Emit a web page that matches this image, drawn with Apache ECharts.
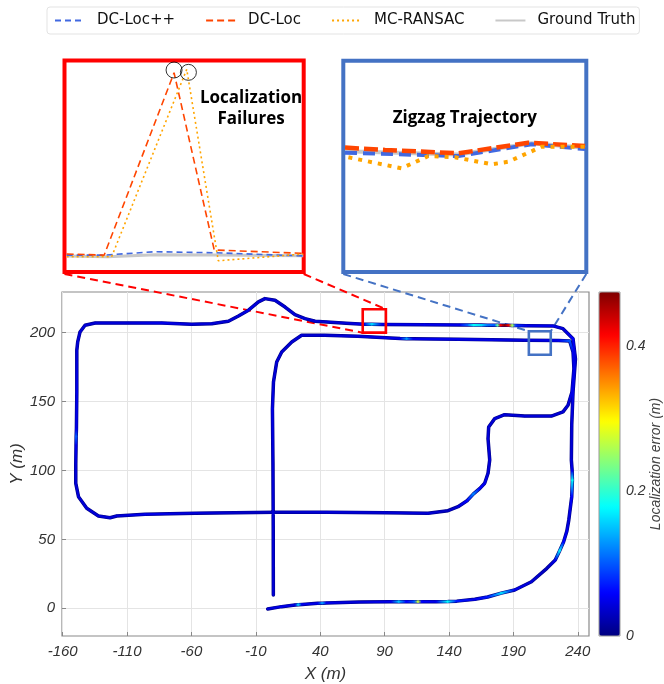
<!DOCTYPE html>
<html><head><meta charset="utf-8">
<script src="https://cdn.jsdelivr.net/npm/echarts@6/dist/echarts.min.js"></script>
<style>html,body{margin:0;padding:0;background:#fff}#c{width:664px;height:684px}</style>
</head><body><div id="c"></div>
<script>
// ---------- data ----------
const xTicks = [-160, -110, -60, -10, 40, 90, 140, 190, 240];
const yTicks = [0, 50, 100, 150, 200];
const errTicks = [0, 0.2, 0.4];
const legendNames = ['DC-Loc++', 'DC-Loc', 'MC-RANSAC', 'Ground Truth'];

// trajectory points: [x (m), y (m), localization error (m)]
const trajectory = [
[-0.8,-0.5,0.04],[10,1.2,0.05],[20.4,2.4,0.04],[23,2.6,0.15],[26,2.8,0.05],[38,3.6,0.05],[41.6,3.7,0.13],[45,3.9,0.05],
[70,4.5,0.04],[95,4.8,0.05],[101,4.8,0.15],[107,4.8,0.06],[113,4.8,0.1],[116,4.8,0.27],[119,4.8,0.06],[130,4.8,0.05],
[139,4.9,0.18],[146,5.2,0.07],[160,6.5,0.05],[170,8.2,0.07],[180.6,11,0.16],[191,13.3,0.05],[204,19.3,0.04],[216,29,0.03],
[222.5,35,0.05],[226,42,0.17],[229,48.3,0.06],[231.5,56,0.05],[233,64,0.04],[235.3,81,0.06],[235.8,93,0.18],[235.6,100,0.05],
[235,107.6,0.04],[235.3,133,0.04],[236.3,157,0.05],[238.2,181,0.04],[236.3,195.6,0.06],[228.5,202.9,0.04],[220.7,204.9,0.05],
[200,205.1,0.05],[192,205.2,0.08],[189,205.2,0.25],[186,205.3,0.42],[183,205.3,0.47],[180,205.3,0.42],[177.5,205.3,0.22],
[175,205.4,0.1],[170,205.4,0.11],[165,205.5,0.16],[159,205.5,0.18],[154,205.6,0.1],[148,205.6,0.05],[121,205.8,0.05],
[88,206,0.05],[80,206.1,0.16],[74,206.1,0.05],[60,206.9,0.04],[45,207.8,0.04],[36,208.3,0.04],[28.2,210.2,0.04],
[20.4,213,0.04],[12.7,218.6,0.04],[4.9,223.5,0.04],[-2.9,224.7,0.04],[-8,222.3,0.04],[-15.7,216.3,0.05],[-23.5,212.1,0.04],
[-31.3,208.3,0.04],[-44.2,206.5,0.04],[-59.8,206.1,0.04],[-83,207,0.05],[-108.9,207,0.04],[-134.8,207,0.04],[-142.6,205.4,0.04],
[-146.5,200.5,0.04],[-148.3,193.3,0.04],[-149,187.2,0.04],[-149,157,0.05],[-149.3,130,0.05],[-149.5,124.5,0.1],[-149.6,118,0.05],
[-149.8,104.7,0.04],[-149.8,90.7,0.04],[-147.7,81,0.04],[-141.3,72.6,0.04],[-132.2,67,0.04],[-123.2,65.7,0.04],[-118,67,0.04],
[-96,68.2,0.05],[-57.2,69,0.04],[4.9,69.7,0.03],[45,69.7,0.04],[90.1,69.4,0.04],[123.7,68.9,0.04],[139.2,70.8,0.03],
[147,73.7,0.04],[154,78,0.06],[159,83,0.12],[164,87,0.06],[167.7,90.7,0.05],[170.3,98,0.04],[171.6,107.6,0.04],
[170.3,123,0.04],[170.8,131.6,0.04],[175.5,137.6,0.04],[183.2,140.5,0.04],[198.8,139.5,0.04],[219.5,139.5,0.04],
[228.5,142.5,0.04],[232.4,147.3,0.04],[235.5,157,0.05],[237,173.9,0.05],[236.3,186,0.05],[233.7,194,0.1],[225,194.3,0.05],
[198.8,194.5,0.04],[147,195.2,0.05],[112,195.5,0.05],[107,195.6,0.13],[102,195.7,0.05],[69.3,197.4,0.04],[43.5,198.1,0.04],
[25.6,198.1,0.04],[17.9,193.2,0.04],[10.1,186,0.04],[6.2,178.7,0.04],[3.7,164.2,0.04],[2.9,144.8,0.05],[3.3,104.7,0.04],
[3.5,60,0.04],[3.6,9.7,0.04]
];

// zoomed regions in the main plot: [x0, x1, y0, y1]
const failureZoom = [73, 91, 200, 217];
const zigzagZoom = [202, 219, 184, 201];

// "Localization Failures" inset (local coordinates 0..100)
const failGroundTruth = [[0.9,7.6],[18,7.2],[38,8.2],[62,8.0],[99.8,7.7]];
const failDCLocPP = [[0.9,8.0],[16.9,8.0],[37.8,9.6],[62.9,9.1],[99.7,7.6]];
const failDCLoc = [[0.9,8.5],[16.6,8.0],[45.8,94.2],[62.6,10.4],[99.8,8.8]];
const failMCRansac = [[0.9,7.2],[19.7,7.2],[51.1,95.8],[64.3,5.3],[99.8,8.5]];
const failureMarks = [[45.8,95.5],[51.8,94.4]];

// "Zigzag Trajectory" inset (local coordinates 0..100)
const zigGroundTruth = [[0.7,57.2],[47.3,55.6],[77.5,61.0],[99.5,58.8]];
const zigDCLocPP = [[0.7,56.5],[47.3,54.9],[77.5,60.5],[99.5,58.2]];
const zigDCLoc = [[0.7,58.9],[17.2,57.8],[47.3,56.2],[61.1,58.6],[76.1,61.2],[99.5,59.7]];
const zigMCRansac = [[2.1,54.3],[24.0,49.1],[35.0,54.9],[46.0,54.3],[61.1,51.0],[67.9,52.2],[81.6,59.3],[99.5,59.3]];

// ---------- styles ----------
const jet = ['#000080','#0000FF','#0080FF','#00FFFF','#80FF80','#FFFF00','#FF8000','#FF0000','#800000'];
const C_PP = '#4169E1', C_DC = '#FF4500', C_MC = '#FFA500', C_GT = '#C8C8C8';
const RED = '#FF0000', BLUE = '#4472C4';
const axisFont = {fontFamily:'Liberation Sans', fontStyle:'italic', fontSize:15, color:'#333'};

function renderTrajectory(params, api) {
  const i = params.dataIndexInside;
  if (i >= params.dataInsideLength - 1) return null;
  const p1 = api.coord([api.value(0, i), api.value(1, i)]);
  const p2 = api.coord([api.value(0, i + 1), api.value(1, i + 1)]);
  const c1 = api.visual('color', i), c2 = api.visual('color', i + 1);
  return {
    type: 'line',
    shape: {x1: p1[0], y1: p1[1], x2: p2[0], y2: p2[1]},
    style: {
      stroke: {type:'linear', x:p1[0], y:p1[1], x2:p2[0], y2:p2[1], global:true,
               colorStops:[{offset:0,color:c1},{offset:1,color:c2}]},
      lineWidth: 2.3, lineCap: 'round'
    }
  };
}
function renderZoomRect(params, api) {
  const a = api.coord([api.value(0), api.value(3)]);
  const b = api.coord([api.value(1), api.value(2)]);
  return {
    type: 'rect',
    shape: {x: a[0], y: a[1], width: b[0] - a[0], height: b[1] - a[1]},
    style: {fill: 'none', stroke: api.value(4) === 0 ? RED : BLUE, lineWidth: 2.6}
  };
}
function lineSeries(name, data, axis, color, type, width, z) {
  return {type:'line', name, data, xAxisIndex:axis, yAxisIndex:axis, symbol:'none', showSymbol:false,
          lineStyle:{color, type, width, cap: 'butt'}, itemStyle:{color}, silent:true, z, animation:false};
}
const hiddenAxis = (g) => ({gridIndex:g, type:'value', min:0, max:100, show:false});
const gridBase = {containLabel:false, outerBoundsMode:'none'};

const option = {
  animation: false,
  backgroundColor: '#fff',
  legend: {
    data: legendNames, left: 47, top: 7, padding: [6, 4, 6, 7], itemGap: 30,
    itemWidth: 30, itemHeight: 14,
    borderColor: '#e3e3e3', borderWidth: 1, borderRadius: 3,
    lineStyle: {width: 2}, itemStyle: {opacity: 0},
    textStyle: {fontFamily: 'DejaVu Sans', fontSize: 15, color: '#111', padding: [0, 0, 0, 7]},
    selectedMode: false
  },
  grid: [
    Object.assign({left: 62, top: 292, width: 527, height: 344, show: true, borderColor: '#8a8a8a', borderWidth: 1.2, backgroundColor: '#fff'}, gridBase),
    Object.assign({left: 64.5, top: 60.5, width: 239.2, height: 211.5, show: true, borderColor: RED, borderWidth: 4, backgroundColor: '#fff'}, gridBase),
    Object.assign({left: 343.3, top: 60.8, width: 243, height: 211.2, show: true, borderColor: BLUE, borderWidth: 4, backgroundColor: '#fff'}, gridBase),
    Object.assign({left: 599, top: 292, width: 21, height: 344, show: true, borderColor: '#999', borderWidth: 1, backgroundColor: 'transparent', z: 10}, gridBase)
  ],
  xAxis: [
    {gridIndex:0, type:'value', min:-160.5, max:248.7, position:'bottom',
     name:'X (m)', nameLocation:'middle', nameGap:30,
     nameTextStyle:{fontFamily:'Liberation Sans', fontStyle:'italic', fontSize:17, color:'#333'},
     axisLine:{show:false, onZero:false}, axisTick:{show:true, inside:true, length:4, customValues:xTicks, lineStyle:{color:'#888'}},
     axisLabel:Object.assign({customValues:xTicks, margin:8}, axisFont),
     splitLine:{show:true, lineStyle:{color:'#e4e4e4', width:1}}},
    hiddenAxis(1), hiddenAxis(2),
    {gridIndex:3, type:'value', min:0, max:1, show:false}
  ],
  yAxis: [
    {gridIndex:0, type:'value', min:-20.1, max:229.5, position:'left',
     name:'Y (m)', nameLocation:'middle', nameGap:36, nameRotate:90, nameMoveOverlap:false,
     nameTextStyle:{fontFamily:'Liberation Sans', fontStyle:'italic', fontSize:17, color:'#333'},
     axisLine:{show:false, onZero:false}, axisTick:{show:true, inside:true, length:4, customValues:yTicks, lineStyle:{color:'#888'}},
     axisLabel:Object.assign({customValues:yTicks, margin:7}, axisFont),
     splitLine:{show:true, lineStyle:{color:'#e4e4e4', width:1}}},
    hiddenAxis(1), hiddenAxis(2),
    {gridIndex:3, type:'value', min:0, max:0.475, position:'right',
     name:'Localization error (m)', nameLocation:'middle', nameGap:29, nameRotate:90,
     nameTextStyle:{fontFamily:'Liberation Sans', fontStyle:'italic', fontSize:14, color:'#444'},
     axisLine:{show:false, onZero:false}, axisTick:{show:false},
     axisLabel:Object.assign({customValues:errTicks, margin:6}, axisFont, {fontSize:14}),
     splitLine:{show:false}}
  ],
  visualMap: {
    type:'continuous', min:0, max:0.475, dimension:2, seriesIndex:1,
    calculable:false, show:true, orient:'vertical', left:599, top:292,
    itemWidth:21, itemHeight:344, padding:0, text:null, hoverLink:false,
    inRange:{color: jet}
  },
  series: [
    {type:'line', data: trajectory.map(p => [p[0], p[1]]), xAxisIndex:0, yAxisIndex:0,
     symbol:'none', showSymbol:false, lineStyle:{color:'#000088', width:3.5, cap:'round', join:'round'}, silent:true, z:2},
    {type:'custom', data: trajectory, xAxisIndex:0, yAxisIndex:0, encode:{x:0, y:1},
     dimensions:['x','y','err'], renderItem: renderTrajectory, silent:true, z:3},
    {type:'custom', data: [failureZoom.concat([0]), zigzagZoom.concat([1])], xAxisIndex:0, yAxisIndex:0,
     encode:{x:[0,1], y:[2,3]}, renderItem: renderZoomRect, silent:true, z:5},
    lineSeries('Ground Truth', failGroundTruth, 1, C_GT, 'solid', 3, 2),
    lineSeries('DC-Loc++', failDCLocPP, 1, C_PP, [6,4], 1.6, 3),
    lineSeries('DC-Loc', failDCLoc, 1, C_DC, [7,4], 1.6, 4),
    lineSeries('MC-RANSAC', failMCRansac, 1, C_MC, [2,3], 1.6, 5),
    {type:'scatter', data: failureMarks, xAxisIndex:1, yAxisIndex:1, symbol:'circle', symbolSize:16,
     itemStyle:{color:'rgba(0,0,0,0)', borderColor:'#000', borderWidth:1}, silent:true, z:6},
    lineSeries('Ground Truth', zigGroundTruth, 2, C_GT, 'solid', 4, 2),
    lineSeries('DC-Loc++', zigDCLocPP, 2, C_PP, [12,6], 4, 3),
    lineSeries('DC-Loc', zigDCLoc, 2, C_DC, [14,5], 4.5, 4),
    lineSeries('MC-RANSAC', zigMCRansac, 2, C_MC, [4,6], 4, 5)
  ]
};

const chart = echarts.init(document.getElementById('c'));
chart.setOption(option);

// annotation: connector lines from inset frames to the zoom rectangles
const mainPx = (x, y) => chart.convertToPixel({gridIndex: 0}, [x, y]);
const insetPx = (g, u, v) => chart.convertToPixel({xAxisIndex: g, yAxisIndex: g}, [u, v]);
const fBL = insetPx(1, 0, 0), fBR = insetPx(1, 100, 0);
const zBL = insetPx(2, 0, 0), zBR = insetPx(2, 100, 0);
const rBL = mainPx(failureZoom[0], failureZoom[2]), rTR = mainPx(failureZoom[1], failureZoom[3]);
const bTL = mainPx(zigzagZoom[0], zigzagZoom[3]), bTR = mainPx(zigzagZoom[1], zigzagZoom[3]);
const conn = (a, b, color) => ({type:'line', z:1, silent:true,
  shape:{x1:a[0], y1:a[1]+2, x2:b[0], y2:b[1]},
  style:{stroke:color, lineWidth:2, lineDash:[8,5]}});
const midF = insetPx(1, 78, 77), midZ = insetPx(2, 50, 73);
chart.setOption({graphic: [
  conn(fBL, rBL, RED), conn(fBR, rTR, RED),
  conn(zBL, bTL, BLUE), conn(zBR, bTR, BLUE),
  {type:'text', z:100, x: midF[0], y: midF[1], silent:true,
   style:{text:'Localization\nFailures', font:'bold 17px "Open Sans"', fill:'#000', align:'center', verticalAlign:'middle', lineHeight:21}},
  {type:'text', z:100, x: midZ[0], y: midZ[1], silent:true,
   style:{text:'Zigzag Trajectory', font:'bold 17px "Open Sans"', fill:'#000', align:'center', verticalAlign:'middle'}}
]});
</script>
</body></html>
